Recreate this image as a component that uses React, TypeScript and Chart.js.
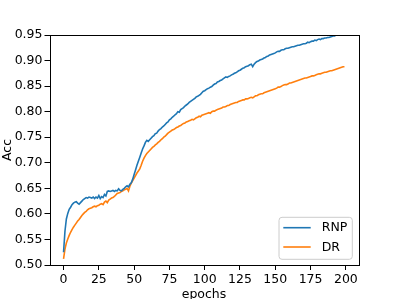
import React, { useEffect, useRef } from "react";
import { Chart, registerables } from "chart.js";

Chart.register(...registerables);

const epochs: number[] = Array.from({ length: 200 }, (_, i) => i);

const rnp: number[] = [
  0.525, 0.566, 0.590, 0.601, 0.609, 0.613, 0.618, 0.621, 0.623, 0.624,
  0.621, 0.619, 0.622, 0.625, 0.628, 0.630, 0.632, 0.631, 0.633, 0.632,
  0.631, 0.633, 0.630, 0.633, 0.631, 0.636, 0.630, 0.634, 0.632, 0.638,
  0.635, 0.644, 0.645, 0.644, 0.645, 0.646, 0.644, 0.646, 0.645, 0.649,
  0.646, 0.645, 0.648, 0.650, 0.653, 0.655, 0.653, 0.658, 0.661, 0.668,
  0.677, 0.686, 0.695, 0.703, 0.711, 0.719, 0.727, 0.733, 0.740, 0.744,
  0.742, 0.745, 0.748, 0.751, 0.753, 0.757, 0.758, 0.762, 0.765, 0.767,
  0.770, 0.772, 0.775, 0.778, 0.780, 0.784, 0.786, 0.789, 0.791, 0.794,
  0.796, 0.800, 0.799, 0.804, 0.806, 0.808, 0.811, 0.813, 0.815, 0.818,
  0.820, 0.822, 0.824, 0.826, 0.829, 0.830, 0.832, 0.834, 0.837, 0.840,
  0.841, 0.843, 0.845, 0.846, 0.848, 0.849, 0.852, 0.854, 0.855, 0.858,
  0.859, 0.861, 0.862, 0.864, 0.866, 0.868, 0.867, 0.869, 0.870, 0.872,
  0.873, 0.875, 0.876, 0.878, 0.880, 0.881, 0.883, 0.885, 0.886, 0.888,
  0.889, 0.890, 0.892, 0.893, 0.888, 0.893, 0.896, 0.898, 0.899, 0.901,
  0.902, 0.903, 0.905, 0.906, 0.908, 0.909, 0.911, 0.912, 0.913, 0.914,
  0.915, 0.917, 0.918, 0.918, 0.920, 0.921, 0.921, 0.923, 0.924, 0.924,
  0.925, 0.926, 0.927, 0.927, 0.928, 0.929, 0.930, 0.930, 0.931, 0.932,
  0.933, 0.933, 0.934, 0.936, 0.935, 0.937, 0.938, 0.938, 0.940, 0.939,
  0.941, 0.942, 0.941, 0.943, 0.943, 0.944, 0.944, 0.945, 0.945, 0.946,
  0.947, 0.948, 0.948, 0.950, 0.950, 0.951, 0.951, 0.952, 0.952, 0.953,
];

const dr: number[] = [
  0.512, 0.531, 0.543, 0.551, 0.558, 0.564, 0.569, 0.574, 0.578, 0.582,
  0.586, 0.589, 0.593, 0.597, 0.600, 0.603, 0.605, 0.608, 0.610, 0.611,
  0.612, 0.614, 0.615, 0.614, 0.616, 0.617, 0.619, 0.620, 0.618, 0.623,
  0.625, 0.622, 0.627, 0.629, 0.631, 0.632, 0.634, 0.637, 0.640, 0.641,
  0.642, 0.644, 0.645, 0.647, 0.648, 0.650, 0.645, 0.654, 0.660, 0.665,
  0.670, 0.675, 0.680, 0.684, 0.688, 0.695, 0.703, 0.709, 0.714, 0.718,
  0.721, 0.724, 0.727, 0.730, 0.732, 0.735, 0.737, 0.740, 0.742, 0.745,
  0.747, 0.750, 0.752, 0.755, 0.758, 0.760, 0.762, 0.764, 0.765, 0.767,
  0.769, 0.770, 0.772, 0.773, 0.775, 0.777, 0.778, 0.780, 0.781, 0.782,
  0.783, 0.785, 0.784, 0.786, 0.788, 0.789, 0.791, 0.790, 0.793, 0.794,
  0.795, 0.796, 0.797, 0.798, 0.797, 0.800, 0.801, 0.801, 0.803, 0.804,
  0.805, 0.806, 0.807, 0.809, 0.809, 0.810, 0.812, 0.812, 0.814, 0.815,
  0.816, 0.817, 0.818, 0.818, 0.820, 0.821, 0.822, 0.823, 0.823, 0.825,
  0.825, 0.826, 0.827, 0.828, 0.827, 0.829, 0.831, 0.831, 0.833, 0.834,
  0.835, 0.835, 0.837, 0.838, 0.839, 0.840, 0.841, 0.842, 0.843, 0.844,
  0.845, 0.846, 0.848, 0.848, 0.849, 0.851, 0.852, 0.853, 0.853, 0.854,
  0.856, 0.856, 0.857, 0.858, 0.859, 0.860, 0.861, 0.862, 0.863, 0.864,
  0.865, 0.866, 0.866, 0.867, 0.868, 0.869, 0.870, 0.870, 0.871, 0.872,
  0.873, 0.874, 0.874, 0.875, 0.876, 0.877, 0.877, 0.878, 0.879, 0.880,
  0.880, 0.881, 0.882, 0.883, 0.884, 0.885, 0.886, 0.887, 0.888, 0.888,
];

const seriesNames: string[] = ["RNP", "DR"];
const seriesColors: string[] = ["#1f77b4", "#ff7f0e"];
const xTicks: number[] = [0, 25, 50, 75, 100, 125, 150, 175, 200];
const yTicks: number[] = [0.5, 0.55, 0.6, 0.65, 0.7, 0.75, 0.8, 0.85, 0.9, 0.95];
const xLabel = "epochs";
const yLabel = "Acc";

const FONT = "DejaVu Sans";
const FS = 12.5;

const framePlugin = {
  id: "frame",
  afterDatasetsDraw(chart: any) {
    const { ctx, chartArea } = chart;
    const { left, top, right, bottom } = chartArea;
    ctx.save();
    ctx.strokeStyle = "#000";
    ctx.lineWidth = 1;
    ctx.strokeRect(Math.round(left) + 0.5, Math.round(top) + 0.5, Math.round(right - left), Math.round(bottom - top));

    // axis titles
    ctx.fillStyle = "#000";
    ctx.font = `${FS}px "${FONT}"`;
    ctx.textAlign = "center";
    ctx.textBaseline = "alphabetic";
    ctx.fillText(xLabel, (left + right) / 2, 297.5);
    ctx.save();
    ctx.translate(11, (top + bottom) / 2);
    ctx.rotate(-Math.PI / 2);
    ctx.fillText(yLabel, 0, 0);
    ctx.restore();

    // legend
    const lx = right - 79.5;
    const ly = bottom - 47.7;
    const lw = 73.3;
    const lh = 42;
    ctx.fillStyle = "rgba(255,255,255,0.8)";
    ctx.strokeStyle = "#cccccc";
    ctx.lineWidth = 1;
    ctx.beginPath();
    (ctx as any).roundRect(lx, ly, lw, lh, 3);
    ctx.fill();
    ctx.stroke();
    const rows = [10.4, 29.7];
    seriesNames.forEach((name, i) => {
      const y = ly + rows[i];
      ctx.strokeStyle = seriesColors[i];
      ctx.lineWidth = 1.6;
      ctx.beginPath();
      ctx.moveTo(lx + 4.3, y);
      ctx.lineTo(lx + 31.7, y);
      ctx.stroke();
      ctx.fillStyle = "#000";
      ctx.textAlign = "left";
      ctx.textBaseline = "middle";
      ctx.fillText(name, lx + 42.7, y + 0.5);
    });
    ctx.restore();
  },
};

export default function App() {
  const ref = useRef<HTMLCanvasElement | null>(null);
  useEffect(() => {
    if (!ref.current) return;
    const chart = new Chart(ref.current, {
      type: "line",
      data: {
        labels: epochs,
        datasets: [rnp, dr].map((vals, i) => ({
          label: seriesNames[i],
          data: vals.map((v, j) => ({ x: epochs[j], y: v })),
          borderColor: seriesColors[i],
          backgroundColor: seriesColors[i],
          borderWidth: 1.6,
          pointRadius: 0,
          tension: 0,
          fill: false,
        })),
      },
      options: {
        animation: false,
        responsive: false,
        devicePixelRatio: 1,
        layout: { padding: { left: 0, top: 35, right: 40.5, bottom: 0 } },
        plugins: { legend: { display: false }, tooltip: { enabled: false }, title: { display: false } },
        scales: {
          x: {
            type: "linear",
            min: -9.95,
            max: 208.95,
            afterBuildTicks: (s: any) => {
              s.ticks = xTicks.map((v) => ({ value: v }));
            },
            afterFit: (s: any) => {
              s.height = 34;
            },
            ticks: {
              font: { family: FONT, size: FS },
              color: "#000",
              padding: 2,
              maxRotation: 0,
              autoSkip: false,
              callback: (v: any) => String(v),
            },
            grid: { drawOnChartArea: false, drawTicks: true, tickLength: 5, tickColor: "#000" },
            border: { display: false },
          },
          y: {
            type: "linear",
            min: 0.5,
            max: 0.95,
            afterBuildTicks: (s: any) => {
              s.ticks = yTicks.map((v) => ({ value: v }));
            },
            afterFit: (s: any) => {
              s.width = 49.5;
            },
            ticks: {
              font: { family: FONT, size: FS },
              color: "#000",
              padding: 2,
              autoSkip: false,
              callback: (v: any) => Number(v).toFixed(2),
            },
            grid: { drawOnChartArea: false, drawTicks: true, tickLength: 5, tickColor: "#000" },
            border: { display: false },
          },
        },
      },
      plugins: [framePlugin],
    });
    return () => chart.destroy();
  }, []);
  return (
    <div style={{ position: "fixed", left: 0, top: 0, width: 399, height: 299, background: "#fff" }}>
      <canvas ref={ref} width={399} height={299} style={{ width: 399, height: 299, display: "block" }} />
    </div>
  );
}
